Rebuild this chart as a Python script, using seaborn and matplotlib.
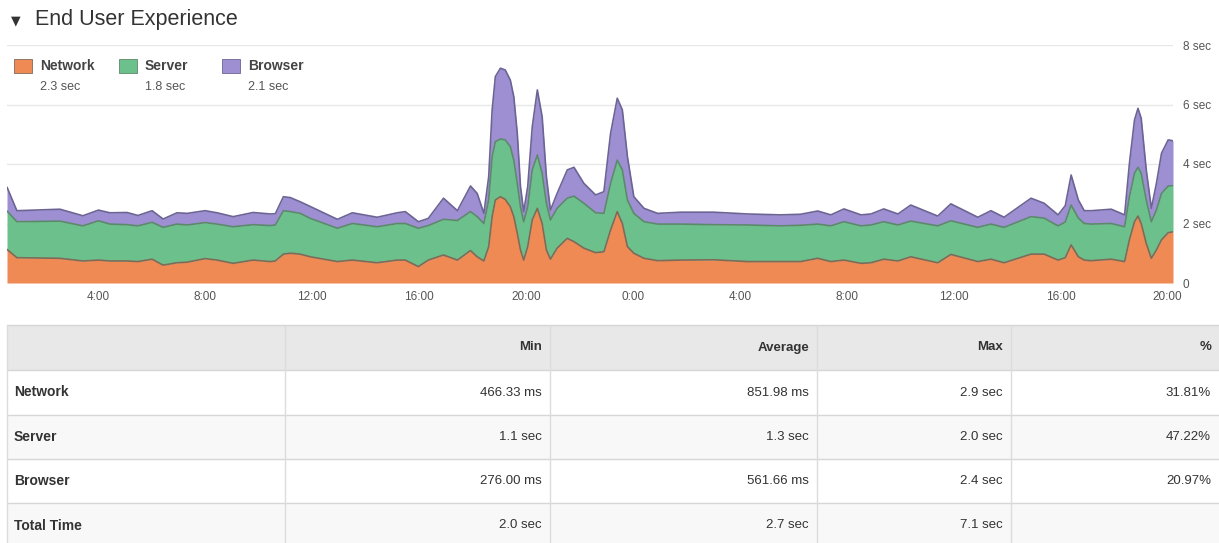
import matplotlib
matplotlib.use("Agg")
import pandas as pd
import matplotlib.pyplot as plt
import seaborn as sns
from matplotlib.patches import Rectangle

# -------------------------------
# Data (hours counted from midnight of the first day)
# -------------------------------
hours = [0.58, 0.95, 2.56, 3.42, 4.00, 4.43, 5.07, 5.48, 6.01, 6.42,
         6.94, 7.32, 7.99, 8.44, 9.04, 9.79, 10.43, 10.62, 10.92, 11.18,
         11.55, 11.93, 12.94, 13.50, 14.43, 15.18, 15.48, 15.97, 16.34, 16.91,
         17.43, 17.92, 18.17, 18.42, 18.60, 18.73, 18.85, 19.04, 19.22, 19.41,
         19.54, 19.67, 19.79, 19.91, 20.06, 20.23, 20.42, 20.60, 20.76, 20.91,
         21.16, 21.54, 21.79, 22.16, 22.60, 22.91, 23.16, 23.41, 23.60, 23.79,
         24.03, 24.41, 24.92, 25.78, 27.02, 28.29, 29.52, 30.27, 30.91, 31.40,
         31.89, 32.53, 32.90, 33.38, 33.91, 34.39, 35.40, 35.89, 36.90, 37.39,
         37.88, 38.89, 39.38, 39.90, 40.17, 40.39, 40.66, 40.88, 41.14, 41.89,
         42.39, 42.57, 42.76, 42.89, 43.01, 43.20, 43.39, 43.58, 43.77, 44.02,
         44.20]

network = [1.13, 0.85, 0.83, 0.74, 0.77, 0.74, 0.74, 0.72, 0.80, 0.60,
           0.68, 0.70, 0.82, 0.77, 0.66, 0.77, 0.72, 0.74, 0.97, 1.00,
           0.97, 0.88, 0.72, 0.77, 0.68, 0.77, 0.77, 0.55, 0.77, 0.94,
           0.77, 1.09, 0.88, 0.74, 1.22, 2.23, 2.79, 2.90, 2.81, 2.56,
           2.23, 1.67, 1.11, 0.77, 1.22, 2.12, 2.51, 2.00, 1.11, 0.80,
           1.17, 1.50, 1.39, 1.17, 1.02, 1.05, 1.78, 2.40, 2.00, 1.22,
           1.00, 0.83, 0.75, 0.77, 0.78, 0.72, 0.72, 0.72, 0.83, 0.72,
           0.77, 0.66, 0.68, 0.80, 0.74, 0.88, 0.68, 0.96, 0.72, 0.80,
           0.68, 0.97, 0.97, 0.77, 0.85, 1.28, 0.88, 0.77, 0.75, 0.80,
           0.72, 1.45, 2.06, 2.25, 2.00, 1.33, 0.83, 1.11, 1.45, 1.69,
           1.72]

server = [1.29, 1.21, 1.25, 1.18, 1.32, 1.24, 1.22, 1.20, 1.24, 1.27,
          1.30, 1.25, 1.21, 1.21, 1.23, 1.19, 1.21, 1.21, 1.46, 1.40,
          1.37, 1.29, 1.12, 1.23, 1.21, 1.23, 1.23, 1.29, 1.16, 1.20,
          1.33, 1.31, 1.35, 1.26, 1.57, 2.02, 1.96, 1.94, 2.00, 2.02,
          1.90, 1.68, 1.45, 1.29, 1.34, 1.68, 1.79, 1.69, 1.57, 1.32,
          1.34, 1.35, 1.53, 1.51, 1.34, 1.29, 1.57, 1.73, 1.80, 1.57,
          1.34, 1.23, 1.23, 1.21, 1.18, 1.23, 1.20, 1.22, 1.15, 1.20,
          1.29, 1.26, 1.27, 1.26, 1.21, 1.20, 1.24, 1.13, 1.15, 1.18,
          1.19, 1.26, 1.21, 1.15, 1.20, 1.34, 1.30, 1.23, 1.23, 1.20,
          1.17, 1.45, 1.63, 1.64, 1.69, 1.46, 1.23, 1.34, 1.56, 1.57,
          1.55]

browser = [0.80, 0.37, 0.40, 0.34, 0.36, 0.38, 0.41, 0.35, 0.39, 0.28,
           0.38, 0.39, 0.40, 0.38, 0.34, 0.41, 0.39, 0.38, 0.47, 0.47,
           0.39, 0.40, 0.30, 0.36, 0.32, 0.36, 0.40, 0.22, 0.24, 0.71,
           0.33, 0.86, 0.78, 0.34, 0.78, 1.57, 2.19, 2.38, 2.35, 2.24,
           2.13, 1.68, 0.68, 0.34, 0.68, 1.45, 2.19, 1.90, 0.89, 0.33,
           0.50, 0.95, 0.97, 0.67, 0.60, 0.73, 1.68, 2.08, 2.02, 1.46,
           0.56, 0.45, 0.36, 0.40, 0.42, 0.37, 0.37, 0.37, 0.44, 0.37,
           0.43, 0.37, 0.37, 0.43, 0.37, 0.54, 0.33, 0.57, 0.34, 0.45,
           0.34, 0.62, 0.50, 0.37, 0.55, 1.01, 0.61, 0.43, 0.45, 0.48,
           0.40, 1.12, 1.79, 1.98, 1.85, 1.01, 0.45, 0.90, 1.35, 1.55,
           1.51]

tick_hours = [4, 8, 12, 16, 20, 24, 28, 32, 36, 40, 44]
tick_labels = ["4:00", "8:00", "12:00", "16:00", "20:00", "0:00",
               "4:00", "8:00", "12:00", "16:00", "20:00"]
y_ticks = [0, 2, 4, 6, 8]
y_labels = ["0", "2 sec", "4 sec", "6 sec", "8 sec"]

series_names = ["Network", "Server", "Browser"]
series_totals = ["2.3 sec", "1.8 sec", "2.1 sec"]
colors = ["#F08A54", "#6CC08C", "#9D8FD2"]
edge_colors = ["#7f6a58", "#5b8a6a", "#6c6494"]

table_header = ["", "Min", "Average", "Max", "%"]
table_rows = ["Network", "Server", "Browser", "Total Time"]
table_min = ["466.33 ms", "1.1 sec", "276.00 ms", "2.0 sec"]
table_avg = ["851.98 ms", "1.3 sec", "561.66 ms", "2.7 sec"]
table_max = ["2.9 sec", "2.0 sec", "2.4 sec", "7.1 sec"]
table_pct = ["31.81%", "47.22%", "20.97%", ""]

# -------------------------------
# Stack the series
# -------------------------------
df = pd.DataFrame({"hour": hours, "Network": network,
                   "Server": server, "Browser": browser})
df["net_top"] = df["Network"]
df["srv_top"] = df["net_top"] + df["Server"]
df["brw_top"] = df["srv_top"] + df["Browser"]

sns.set_style("white")
plt.rcParams["font.family"] = ["Liberation Sans", "DejaVu Sans"]

W, H = 1219, 543
fig = plt.figure(figsize=(W / 100, H / 100), dpi=100)

# page overlay in pixel coordinates for title, legend and table
page = fig.add_axes([0, 0, 1, 1])
page.set_xlim(0, W)
page.set_ylim(H, 0)
page.axis("off")

ax = fig.add_axes([7 / W, 1 - 283 / H, (1173 - 7) / W, (283 - 45) / H])
ax.set_facecolor("none")

lower = [0, "net_top", "srv_top"]
upper = ["net_top", "srv_top", "brw_top"]
for i in range(3):
    lo = 0 if lower[i] == 0 else df[lower[i]]
    ax.fill_between(df["hour"], lo, df[upper[i]], color=colors[i], lw=0, zorder=2)
    sns.lineplot(x="hour", y=upper[i], data=df, ax=ax, color=edge_colors[i],
                 lw=1.2, zorder=3)

ax.set_xlim(hours[0], hours[-1])
ax.set_ylim(0, 8)
ax.yaxis.grid(True, color="#e8e8e8", lw=1)
ax.set_axisbelow(True)
for s in ax.spines.values():
    s.set_visible(False)
ax.yaxis.tick_right()
ax.set_yticks(y_ticks, y_labels)
ax.set_xticks(tick_hours, tick_labels)
ax.tick_params(axis="both", length=0, labelsize=8.5, labelcolor="#555555")
ax.tick_params(axis="x", pad=6)
ax.tick_params(axis="y", pad=7)
ax.set_xlabel("")
ax.set_ylabel("")

# -------------------------------
# Title and legend
# -------------------------------
page.text(11, 21, "\u25bc", fontsize=9, color="#333333", va="center",
          family=["DejaVu Sans"])
page.text(35, 19, "End User Experience", fontsize=15.5, color="#333333",
          va="center")

legend_x = [14, 119, 222]
for i in range(3):
    page.add_patch(Rectangle((legend_x[i], 59), 18, 14, fc=colors[i],
                             ec=edge_colors[i], lw=0.6))
    page.text(legend_x[i] + 26, 66, series_names[i], fontsize=10,
              fontweight="bold", color="#444444", va="center")
    page.text(legend_x[i] + 26, 87, series_totals[i], fontsize=9,
              color="#555555", va="center")

# -------------------------------
# Summary table
# -------------------------------
col_edges = [7, 285, 550, 817, 1011, 1219]
row_edges = [325, 370, 415, 459, 503, 548]
row_fill = ["#e8e8e8", "#ffffff", "#f8f8f8", "#ffffff", "#f8f8f8"]
for r in range(5):
    page.add_patch(Rectangle((col_edges[0], row_edges[r]),
                             col_edges[-1] - col_edges[0],
                             row_edges[r + 1] - row_edges[r],
                             fc=row_fill[r], ec="none", zorder=1))
for y in row_edges[:-1]:
    page.plot([col_edges[0], col_edges[-1]], [y, y], color="#d6d6d6", lw=1, zorder=2)
for x in col_edges[:-1]:
    page.plot([x, x], [row_edges[0], H], color="#dcdcdc", lw=1, zorder=2)

for c in range(1, 5):
    page.text(col_edges[c + 1] - 8, (row_edges[0] + row_edges[1]) / 2,
              table_header[c], fontsize=9.5, fontweight="bold", color="#333333",
              ha="right", va="center", zorder=3)

columns = [table_min, table_avg, table_max, table_pct]
for r in range(4):
    yc = (row_edges[r + 1] + row_edges[r + 2]) / 2
    page.text(14, yc, table_rows[r], fontsize=10, fontweight="bold",
              color="#333333", va="center", zorder=3)
    for c in range(4):
        page.text(col_edges[c + 2] - 8, yc, columns[c][r], fontsize=9.5,
                  color="#333333", ha="right", va="center", zorder=3)

fig.savefig("out.png", dpi=100)
